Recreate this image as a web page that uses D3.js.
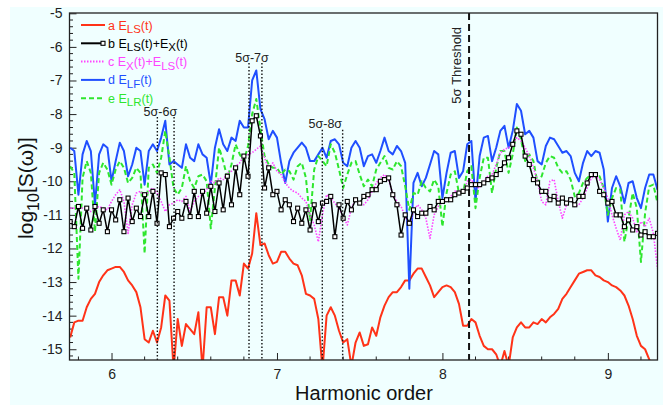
<!DOCTYPE html>
<html>
<head>
<meta charset="utf-8">
<script src="https://cdn.jsdelivr.net/npm/d3@7"></script>
<style>
  body { margin: 0; background: #fff; }
  svg { display: block; font-family: "Liberation Sans", Arial, Helvetica, sans-serif; }
</style>
</head>
<body>
<svg width="663" height="405"></svg>
<script>
// harmonic order grid of the spectra
var harmonicStart = 5.75,
    harmonicStep = 0.025;

// a  E_LS(t)
var seriesA = [
  -14.65,-14.2,-14.15,-14.15,-13.75,-13.5,-13.35,-13.0,-12.8,-12.65,
  -12.6,-12.55,-12.55,-12.7,-12.95,-13.1,-13.3,-13.75,-14.7,-14.8,
  -14.45,-14.8,-14.35,-13.4,-13.55,-15.6,-14.1,-14.9,-14.25,-14.4,
  -14.55,-13.9,-15.6,-13.75,-13.75,-14.55,-13.45,-13.45,-14.0,-12.95,
  -12.95,-13.4,-12.45,-12.6,-12.15,-10.95,-11.9,-11.85,-12.2,-12.45,
  -12.4,-12.1,-12.1,-12.3,-12.45,-12.5,-12.8,-13.35,-13.4,-13.5,
  -14.1,-15.6,-14.0,-13.75,-14.0,-14.45,-14.8,-14.7,-15.5,-14.8,
  -14.5,-14.9,-14.85,-14.35,-14.6,-14.05,-13.7,-13.45,-13.3,-13.3,
  -13.15,-12.95,-12.95,-12.75,-12.6,-12.6,-12.85,-13.1,-13.45,-13.3,
  -13.15,-13.1,-13.15,-13.3,-13.65,-14.3,-14.3,-14.1,-14.2,-14.6,
  -14.9,-15.0,-15.0,-15.15,-15.5,-15.05,-15.5,-14.65,-14.35,-14.2,
  -14.35,-14.35,-14.2,-14.25,-14.1,-14.2,-14.05,-13.95,-13.8,-13.5,
  -13.35,-13.15,-12.95,-12.75,-12.7,-12.65,-12.65,-12.8,-12.85,-12.95,
  -13.0,-13.1,-13.15,-13.25,-13.4,-13.7,-14.1,-14.6,-14.9,-15.0,
  -15.3,-15.6,-15.6
];

// b  E_LS(t)+E_X(t)
var seriesB = [
  -11.2,-11.35,-10.75,-11.4,-10.8,-11.45,-10.75,-11.25,-10.85,-11.5,
  -10.85,-11.15,-10.55,-11.5,-10.5,-11.2,-10.8,-11.05,-10.4,-11.05,
  -10.3,-11.25,-9.75,-9.8,-11.35,-11.1,-10.9,-11.1,-10.6,-11.05,
  -10.3,-11.05,-10.3,-10.95,-10.15,-10.9,-10.05,-10.85,-9.85,-10.7,
  -9.6,-10.4,-9.25,-9.85,-8.2,-8.05,-8.65,-10.2,-9.6,-10.4,
  -10.3,-10.85,-10.55,-10.7,-11.2,-10.8,-11.25,-10.85,-11.45,-10.7,
  -11.2,-10.65,-10.6,-10.45,-11.65,-10.7,-11.1,-10.6,-10.85,-10.55,
  -10.65,-10.45,-10.4,-10.25,-10.25,-10.0,-9.95,-9.9,-10.4,-10.7,
  -11.6,-11.0,-11.25,-10.85,-11.05,-10.95,-10.95,-10.75,-10.85,-10.6,
  -10.6,-10.55,-10.55,-10.4,-10.35,-10.3,-10.2,-10.1,-10.1,-10.1,
  -10.05,-9.95,-9.9,-9.8,-9.65,-9.45,-9.3,-8.9,-8.5,-8.6,
  -9.25,-9.5,-9.95,-10.05,-10.3,-10.3,-10.55,-10.45,-10.65,-10.5,
  -10.65,-10.55,-10.7,-10.45,-10.45,-10.05,-9.8,-9.8,-10.3,-10.4,
  -10.65,-10.6,-11.0,-11.0,-11.35,-11.15,-11.45,-11.35,-11.6,-11.5,
  -11.65,-11.65,-11.55
];

// c  E_X(t)+E_LS(t)
var seriesC = [
  -10.8,-10.8,-10.75,-10.8,-10.85,-10.9,-10.8,-10.75,-10.8,-10.85,
  -10.6,-10.4,-10.25,-10.6,-11.55,-10.7,-10.35,-10.3,-10.45,-10.3,
  -10.2,-10.35,-10.6,-10.9,-10.7,-10.65,-10.55,-10.6,-10.45,-10.9,
  -10.6,-10.45,-10.4,-10.25,-10.0,-10.05,-9.9,-9.95,-9.75,-9.7,
  -9.55,-9.45,-9.25,-9.2,-9.15,-9.05,-8.95,-9.3,-9.65,-9.45,
  -9.7,-9.8,-10.05,-10.2,-10.3,-10.35,-10.5,-10.6,-11.0,-11.3,
  -11.8,-11.0,-10.4,-10.5,-10.65,-10.8,-11.05,-11.3,-10.8,-10.55,
  -10.65,-10.7,-10.55,-10.3,-10.05,-9.9,-9.8,-9.95,-10.4,-10.6,
  -10.75,-11.05,-11.3,-10.9,-10.7,-10.85,-11.1,-11.7,-11.0,-10.75,
  -10.6,-10.6,-10.45,-10.3,-10.3,-10.35,-10.0,-9.95,-10.15,-10.2,
  -10.0,-9.85,-9.8,-9.5,-9.15,-9.05,-9.0,-8.9,-8.7,-8.8,
  -9.0,-9.25,-9.6,-10.0,-10.6,-10.7,-10.0,-9.95,-10.6,-11.1,
  -10.7,-10.45,-10.75,-10.7,-10.5,-10.2,-9.9,-9.85,-9.95,-10.2,
  -10.5,-11.0,-11.4,-11.75,-11.0,-10.9,-11.1,-11.5,-11.2,-11.35,
  -11.1,-11.55,-12.6
];

// d  E_LF(t)
var seriesD = [
  -9.0,-9.1,-10.4,-9.2,-8.8,-9.1,-10.7,-9.2,-8.9,-9.0,
  -10.0,-9.4,-8.85,-9.1,-9.85,-9.5,-9.0,-9.1,-10.1,-9.1,
  -8.9,-9.1,-8.7,-8.2,-9.5,-9.4,-9.5,-9.6,-8.9,-9.3,
  -9.4,-8.9,-9.2,-9.3,-10.1,-9.0,-8.45,-8.9,-9.1,-8.7,
  -8.8,-8.2,-8.4,-8.4,-7.0,-6.7,-7.85,-8.15,-8.75,-8.5,
  -8.7,-9.45,-10.05,-9.4,-9.15,-9.0,-8.85,-9.0,-9.4,-9.4,
  -9.2,-9.0,-9.3,-8.8,-8.75,-8.9,-9.45,-9.55,-9.0,-8.8,
  -9.0,-9.55,-9.25,-9.2,-9.45,-9.1,-8.7,-9.1,-9.2,-8.95,
  -9.1,-9.45,-13.2,-10.05,-9.75,-10.15,-9.9,-9.5,-9.1,-9.2,
  -10.5,-9.75,-9.15,-9.1,-9.9,-9.7,-8.9,-8.8,-10.6,-9.25,
  -8.7,-8.65,-9.4,-9.0,-8.5,-8.35,-9.0,-8.5,-7.7,-7.9,
  -8.6,-8.5,-8.7,-9.4,-9.5,-8.95,-8.7,-8.75,-8.95,-9.15,
  -9.1,-9.25,-9.75,-10.0,-9.45,-9.1,-9.25,-9.1,-9.15,-9.65,
  -11.2,-10.2,-9.85,-10.15,-10.65,-10.05,-10.0,-10.5,-10.8,-10.2,
  -9.8,-9.8,-10.25
];

// e  E_LR(t)
var seriesE = [
  -9.55,-9.75,-12.9,-9.9,-9.4,-9.75,-11.5,-9.75,-9.45,-9.65,
  -10.1,-9.65,-9.4,-9.6,-10.05,-9.9,-9.6,-9.75,-12.15,-9.6,
  -9.5,-9.75,-9.3,-8.5,-9.3,-10.2,-10.4,-10.2,-9.55,-10.0,
  -10.2,-9.85,-9.8,-10.0,-11.4,-10.2,-9.0,-9.4,-9.9,-9.5,
  -8.9,-9.2,-9.4,-8.95,-8.0,-7.55,-8.45,-9.25,-9.5,-9.6,
  -9.6,-9.8,-9.65,-9.7,-9.95,-9.55,-9.45,-9.9,-11.15,-9.65,
  -9.25,-9.4,-9.55,-8.9,-9.15,-9.65,-10.2,-9.8,-9.45,-9.4,
  -9.8,-10.15,-9.95,-10.15,-9.65,-9.45,-9.25,-9.6,-9.65,-9.4,
  -9.55,-10.15,-10.85,-10.35,-10.4,-10.0,-10.2,-10.3,-9.95,-10.15,
  -11.35,-10.35,-9.8,-9.7,-10.35,-10.35,-9.7,-9.55,-10.8,-9.9,
  -9.3,-9.3,-10.35,-9.6,-9.1,-9.1,-9.75,-9.2,-8.4,-8.75,
  -9.4,-9.2,-9.4,-10.05,-9.85,-9.45,-9.25,-9.3,-9.6,-9.75,
  -9.7,-9.95,-10.45,-10.35,-10.05,-9.9,-9.8,-9.85,-9.85,-10.2,
  -11.0,-10.5,-10.2,-10.25,-11.8,-11.1,-10.35,-10.8,-12.4,-10.95,
  -10.15,-10.1,-10.65
];

var xTicks = [6, 7, 8, 9];
var yTicks = [-5, -6, -7, -8, -9, -10, -11, -12, -13, -14, -15];

// sigma windows: label, line positions (harmonic order), top of the lines (log10 S)
var sigmaLabels = ["5σ-6σ", "5σ-7σ", "5σ-8σ"];
var sigmaLines = [[6.277, 6.378], [6.831, 6.909], [7.274, 7.397]];
var sigmaTops = [-8.09, -6.48, -8.47];
var threshold = 8.161;

var svg = d3.select("svg"),
    width = +svg.attr("width"),
    height = +svg.attr("height");

var plotLeft = 69.5, plotRight = 657.5, plotTop = 13, plotBottom = 360;

var x = d3.scaleLinear().domain([5.746, 9.30]).range([plotLeft, plotRight]);
var y = d3.scaleLinear().domain([-15.32, -5]).range([plotBottom, 13.3]);

svg.append("rect")
    .attr("x", 10).attr("y", 7)
    .attr("width", width - 10).attr("height", height - 7)
    .attr("fill", "#f0ffff");

svg.append("clipPath").attr("id", "plot-clip")
  .append("rect")
    .attr("x", plotLeft).attr("y", plotTop)
    .attr("width", plotRight - plotLeft).attr("height", plotBottom - plotTop);

// axes, ticks pointing inward
var minorX = d3.range(5.8, 9.3, 0.2).filter(function(d) { return Math.abs(d - Math.round(d)) > 0.01; });
var minorY = d3.range(-15.2, -5, 0.2).filter(function(d) { return Math.abs(d - Math.round(d)) > 0.01; });

var xAxis = svg.append("g")
    .attr("transform", "translate(0," + plotBottom + ")")
    .call(d3.axisBottom(x).tickValues(xTicks).tickSize(-7).tickPadding(9).tickFormat(d3.format("d")));
xAxis.append("g").selectAll("line")
    .data(minorX)
  .enter().append("line")
    .attr("x1", function(d) { return x(d); })
    .attr("x2", function(d) { return x(d); })
    .attr("y1", 0).attr("y2", -3.5)
    .attr("stroke", "#222");

var yAxis = svg.append("g")
    .attr("transform", "translate(" + plotLeft + ",0)")
    .call(d3.axisLeft(y).tickValues(yTicks).tickSize(-7).tickPadding(7).tickFormat(function(d) { return String(d); }));
yAxis.append("g").selectAll("line")
    .data(minorY)
  .enter().append("line")
    .attr("y1", function(d) { return y(d); })
    .attr("y2", function(d) { return y(d); })
    .attr("x1", 0).attr("x2", 3.5)
    .attr("stroke", "#222");

svg.selectAll(".domain").remove();
svg.selectAll(".tick line").attr("stroke", "#222");
svg.selectAll(".tick text")
    .attr("fill", "#222")
    .style("font-size", "14px")
    .style("font-family", "'Liberation Sans', Arial, sans-serif");

// data
var line = d3.line()
    .x(function(d, i) { return x(harmonicStart + i * harmonicStep); })
    .y(function(d) { return y(d); });

var plot = svg.append("g").attr("clip-path", "url(#plot-clip)");

var series = [
  {values: seriesA, color: "#ff3318", width: 2, dash: null},
  {values: seriesD, color: "#1f4fff", width: 2, dash: null},
  {values: seriesE, color: "#2ee62e", width: 2, dash: "5,3"},
  {values: seriesC, color: "#ff44ff", width: 1.6, dash: "1.5,1.5"},
  {values: seriesB, color: "#000", width: 1.5, dash: null}
];

plot.selectAll("path.series")
    .data(series)
  .enter().append("path")
    .attr("class", "series")
    .attr("fill", "none")
    .attr("stroke", function(d) { return d.color; })
    .attr("stroke-width", function(d) { return d.width; })
    .attr("stroke-dasharray", function(d) { return d.dash; })
    .attr("stroke-linejoin", "round")
    .attr("d", function(d) { return line(d.values); });

plot.selectAll("rect.marker")
    .data(seriesB)
  .enter().append("rect")
    .attr("class", "marker")
    .attr("x", function(d, i) { return x(harmonicStart + i * harmonicStep) - 2; })
    .attr("y", function(d) { return y(d) - 2; })
    .attr("width", 4).attr("height", 4)
    .attr("fill", "#fff")
    .attr("stroke", "#000")
    .attr("stroke-width", 1.1);

// sigma windows
sigmaLines.forEach(function(pair, k) {
  pair.forEach(function(h) {
    svg.append("line")
        .attr("x1", x(h)).attr("x2", x(h))
        .attr("y1", y(sigmaTops[k])).attr("y2", plotBottom)
        .attr("stroke", "#111")
        .attr("stroke-width", 1.4)
        .attr("stroke-dasharray", "1.5,2");
  });
  svg.append("text")
      .attr("x", x(pair[0]) + 3)
      .attr("y", y(sigmaTops[k]) - 1.5)
      .attr("text-anchor", "middle")
      .style("font-size", "12.5px")
      .attr("fill", "#222")
      .text(sigmaLabels[k]);
});

svg.append("line")
    .attr("x1", x(threshold)).attr("x2", x(threshold))
    .attr("y1", plotTop).attr("y2", plotBottom)
    .attr("stroke", "#111")
    .attr("stroke-width", 2)
    .attr("stroke-dasharray", "7,4");

svg.append("text")
    .attr("transform", "translate(" + (x(threshold) - 8) + ",27) rotate(-90)")
    .attr("text-anchor", "end")
    .style("font-size", "13px")
    .attr("fill", "#222")
    .text("5σ Threshold");

// frame
svg.append("rect")
    .attr("x", plotLeft).attr("y", plotTop)
    .attr("width", plotRight - plotLeft).attr("height", plotBottom - plotTop)
    .attr("fill", "none")
    .attr("stroke", "#222")
    .attr("stroke-width", 1.3);

// legend
var legendItems = [
  {color: "#ff3318", dash: null, marker: false, parts: [["a E"], ["LS", 1], ["(t)"]]},
  {color: "#000", dash: null, marker: true, parts: [["b E"], ["LS", 1], ["(t)+E"], ["X", 1], ["(t)"]]},
  {color: "#ff44ff", dash: "1.5,1.5", marker: false, parts: [["c E"], ["X", 1], ["(t)+E"], ["LS", 1], ["(t)"]]},
  {color: "#1f4fff", dash: null, marker: false, parts: [["d E"], ["LF", 1], ["(t)"]]},
  {color: "#2ee62e", dash: "5,3", marker: false, parts: [["e E"], ["LR", 1], ["(t)"]]}
];

var legend = svg.append("g").selectAll("g")
    .data(legendItems)
  .enter().append("g")
    .attr("transform", function(d, i) { return "translate(81," + (25 + i * 18.3) + ")"; });

legend.append("line")
    .attr("x1", 0).attr("x2", 24)
    .attr("stroke", function(d) { return d.color; })
    .attr("stroke-width", 2)
    .attr("stroke-dasharray", function(d) { return d.dash; });

legend.filter(function(d) { return d.marker; }).append("rect")
    .attr("x", 20).attr("y", -2).attr("width", 4).attr("height", 4)
    .attr("fill", "#fff").attr("stroke", "#000").attr("stroke-width", 1.1);

var legendText = legend.append("text")
    .attr("x", 27).attr("y", 4.5)
    .attr("fill", function(d) { return d.color; })
    .style("font-size", "12.5px");

legendText.each(function(d) {
  var t = d3.select(this), shifted = false;
  d.parts.forEach(function(p) {
    var ts = t.append("tspan").text(p[0]);
    if (p[1] && !shifted) { ts.attr("dy", 3.5).style("font-size", "11.5px"); shifted = true; }
    else if (!p[1] && shifted) { ts.attr("dy", -3.5); shifted = false; }
    else if (p[1]) { ts.style("font-size", "11.5px"); }
  });
});

// axis titles
svg.append("text")
    .attr("x", 364).attr("y", 400)
    .attr("text-anchor", "middle")
    .style("font-size", "20px")
    .attr("fill", "#111")
    .text("Harmonic order");

var yTitle = svg.append("text")
    .attr("transform", "translate(33,188) rotate(-90)")
    .attr("text-anchor", "middle")
    .style("font-size", "21px")
    .attr("fill", "#111");
yTitle.append("tspan").text("log");
yTitle.append("tspan").attr("dy", 6).style("font-size", "16px").text("10");
yTitle.append("tspan").attr("dy", -6).text("[S(ω)]");
</script>
</body>
</html>
